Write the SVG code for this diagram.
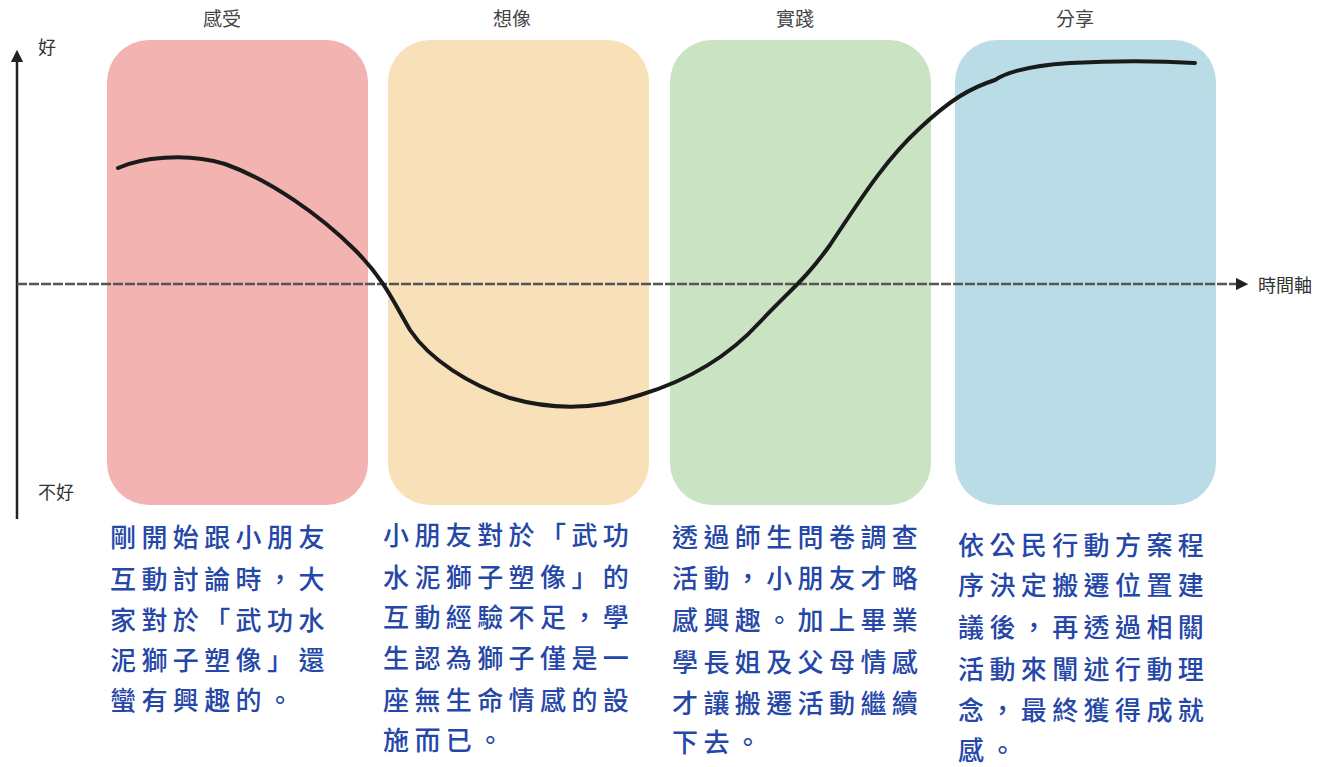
<svg xmlns="http://www.w3.org/2000/svg" width="1335" height="767" viewBox="0 0 1335 767">
<defs>
<style>
.lbl{font-family:"Noto Sans CJK TC","Noto Sans CJK SC",sans-serif;font-size:19px;fill:#444;}
.ax{font-family:"Noto Sans CJK TC","Noto Sans CJK SC",sans-serif;font-size:18px;fill:#333;}
.body{font-family:"Noto Sans CJK TC","Noto Sans CJK SC",sans-serif;font-size:26px;font-weight:500;fill:#2547a8;letter-spacing:5.4px;}
.axis{stroke:#222;stroke-width:2.5;fill:none;}
.haxis{stroke:#555;stroke-width:2.5;stroke-dasharray:10 2;fill:none;}
</style>
<marker id="ah" viewBox="0 0 10 10" refX="5" refY="5" markerWidth="5" markerHeight="5" orient="auto-start-reverse">
<path d="M0,0 L10,5 L0,10 z" fill="#222"/>
</marker>
</defs>
<rect width="1335" height="767" fill="#fff"/>
<g id="node-feel">
<rect x="107" y="40" width="261" height="465" rx="42" fill="#f2b3b1"/>
<text class="lbl" x="222" y="26" text-anchor="middle">感受</text>
<text class="body" x="110"><tspan x="110" y="547">剛開始跟小朋友</tspan><tspan x="110" y="589">互動討論時，大</tspan><tspan x="110" y="630">家對於「武功水</tspan><tspan x="110" y="670">泥獅子塑像」還</tspan><tspan x="110" y="710">蠻有興趣的。</tspan></text>
</g>
<g id="node-imagine">
<rect x="388" y="40" width="261" height="465" rx="42" fill="#f8e0b9"/>
<text class="lbl" x="512" y="26" text-anchor="middle">想像</text>
<text class="body" x="383"><tspan x="383" y="545">小朋友對於「武功</tspan><tspan x="383" y="587">水泥獅子塑像」的</tspan><tspan x="383" y="627">互動經驗不足，學</tspan><tspan x="383" y="668">生認為獅子僅是一</tspan><tspan x="383" y="710">座無生命情感的設</tspan><tspan x="383" y="750">施而已。</tspan></text>
</g>
<g id="node-practice">
<rect x="670" y="40" width="261" height="465" rx="42" fill="#cae3c3"/>
<text class="lbl" x="795" y="26" text-anchor="middle">實踐</text>
<text class="body" x="672"><tspan x="672" y="547">透過師生問卷調查</tspan><tspan x="672" y="588">活動，小朋友才略</tspan><tspan x="672" y="630">感興趣。加上畢業</tspan><tspan x="672" y="672">學長姐及父母情感</tspan><tspan x="672" y="713">才讓搬遷活動繼續</tspan><tspan x="672" y="752">下去。</tspan></text>
</g>
<g id="node-share">
<rect x="955" y="40" width="261" height="465" rx="42" fill="#badce6"/>
<text class="lbl" x="1075" y="26" text-anchor="middle">分享</text>
<text class="body" x="958"><tspan x="958" y="555">依公民行動方案程</tspan><tspan x="958" y="595">序決定搬遷位置建</tspan><tspan x="958" y="637">議後，再透過相關</tspan><tspan x="958" y="679">活動來闡述行動理</tspan><tspan x="958" y="720">念，最終獲得成就</tspan><tspan x="958" y="760">感。</tspan></text>
</g>
<g id="connectors">
<line class="axis" x1="17" y1="519" x2="17" y2="56" marker-end="url(#ah)"/>
<line class="haxis" x1="17" y1="284" x2="1242" y2="284" marker-end="url(#ah)"/>
<path d="M118,168 C140,158 185,152 225,164 C270,180 320,215 355,250 C385,280 395,305 410,330 C430,360 470,385 510,398 C545,408 590,412 640,395 C690,380 730,355 760,322 C790,290 805,280 830,245 C860,200 885,160 920,128 C950,100 970,88 995,80 C1010,70 1040,65 1070,63 C1110,61 1160,61 1195,63" fill="none" stroke="#1a1a1a" stroke-width="4" stroke-linecap="round"/>
</g>
<text class="ax" x="38" y="54">好</text>
<text class="ax" x="38" y="499">不好</text>
<text class="ax" x="1258" y="292">時間軸</text>
</svg>
